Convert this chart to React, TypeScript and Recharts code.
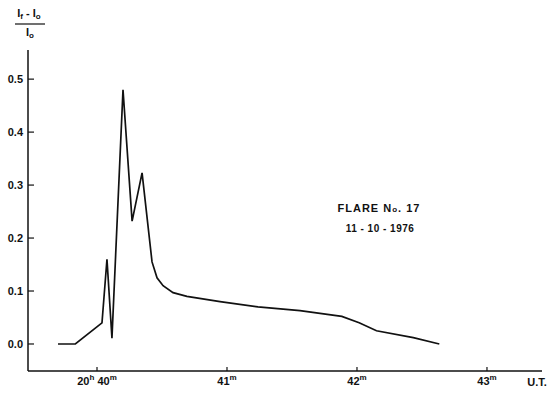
import React from "react";
import { LineChart, Line, XAxis, YAxis } from "recharts";

// seconds after 20h40m UT
const seconds = [-18, -10, 2.3, 4.6, 6.9, 12, 16.2, 20.8, 25.4, 27.7, 30.5, 35.1, 41.5, 56.8, 74.3, 93.7, 113, 121, 129, 146, 158];
// (If - Io) / Io
const ratio = [0, 0, 0.04, 0.16, 0.011, 0.48, 0.232, 0.323, 0.155, 0.125, 0.11, 0.097, 0.09, 0.08, 0.07, 0.063, 0.052, 0.04, 0.025, 0.012, 0];

const xTicks = [0, 60, 120, 180];
const xTickLabels = [["20", "h", " 40", "m"], ["41", "m"], ["42", "m"], ["43", "m"]];
const yTicks = [0, 0.1, 0.2, 0.3, 0.4, 0.5];

const data = seconds.map((t, i) => ({ t, v: ratio[i] }));

const font = "'Liberation Sans', Arial, sans-serif";

const XTick = (props: any) => {
  const { x, y, payload } = props;
  const idx = xTicks.indexOf(payload.value);
  const parts = xTickLabels[idx] || [];
  return (
    <g>
      <line x1={x} y1={y} x2={x} y2={y - 4} stroke="#111" strokeWidth={1.2} />
      <text x={x} y={y + 14} textAnchor="middle" fontSize={11} fontWeight="bold" fontFamily={font} fill="#111">
        {parts.map((p, i) =>
          i % 2 === 1 ? (
            <tspan key={i} dy={-5} fontSize={8}>{p}</tspan>
          ) : (
            <tspan key={i} dy={i === 0 ? 0 : 5}>{p}</tspan>
          )
        )}
      </text>
    </g>
  );
};

const YTick = (props: any) => {
  const { x, y, payload } = props;
  return (
    <g>
      <line x1={x} y1={y} x2={x + 6} y2={y} stroke="#111" strokeWidth={1.2} />
      <text x={x - 5} y={y + 4} textAnchor="end" fontSize={11} fontWeight="bold" fontFamily={font} fill="#111">
        {Number(payload.value).toFixed(1)}
      </text>
    </g>
  );
};

export default function App() {
  return (
    <div style={{ position: "absolute", left: 0, top: 0, width: 548, height: 393, background: "#fff" }}>
      <LineChart width={548} height={393} data={data} margin={{ top: 50, right: 6, bottom: 0, left: 0 }}>
        <XAxis
          dataKey="t"
          type="number"
          domain={[-31.85, 205.4]}
          ticks={xTicks}
          height={22}
          tickSize={0}
          tickMargin={0}
          tickLine={false}
          tick={<XTick />}
          axisLine={{ stroke: "#111", strokeWidth: 1.5 }}
          allowDataOverflow
        />
        <YAxis
          type="number"
          domain={[-0.051, 0.555]}
          ticks={yTicks}
          width={28}
          tickSize={0}
          tickMargin={0}
          tickLine={false}
          tick={<YTick />}
          axisLine={{ stroke: "#111", strokeWidth: 1.5 }}
          allowDataOverflow
        />
        <Line
          dataKey="v"
          type="linear"
          stroke="#111"
          strokeWidth={1.7}
          dot={false}
          isAnimationActive={false}
        />
      </LineChart>
      <svg width={548} height={393} style={{ position: "absolute", left: 0, top: 0, pointerEvents: "none" }}>
        <g fontFamily={font} fontWeight="bold" fill="#111">
          <text x={29} y={17} textAnchor="middle" fontSize={11}>
            I<tspan fontSize={8} dy={2}>f</tspan>
            <tspan dy={-2}> - I</tspan>
            <tspan fontSize={8} dy={2}>o</tspan>
          </text>
          <line x1={15} y1={24} x2={45} y2={24} stroke="#111" strokeWidth={1.2} />
          <text x={30} y={36} textAnchor="middle" fontSize={11}>
            I<tspan fontSize={8} dy={2}>o</tspan>
          </text>
          <text x={379} y={212} textAnchor="middle" fontSize={11} letterSpacing={1}>
            FLARE{"   "}N<tspan fontSize={8}>o</tspan>.{"  "}17
          </text>
          <text x={380} y={232} textAnchor="middle" fontSize={10} letterSpacing={0.5}>11 - 10 - 1976</text>
          <text x={537} y={386} textAnchor="middle" fontSize={11}>U.T.</text>
        </g>
      </svg>
    </div>
  );
}
